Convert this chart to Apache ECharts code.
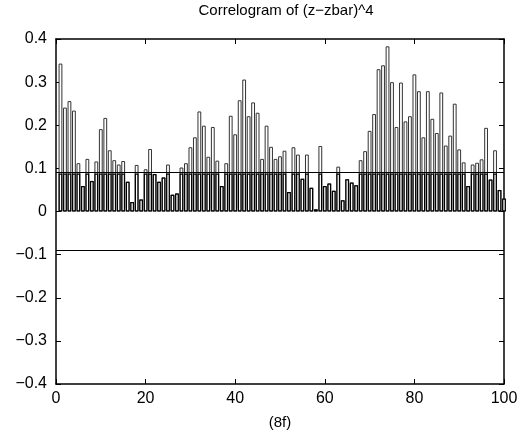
<!DOCTYPE html>
<html>
<head>
<meta charset="utf-8">
<script src="https://cdn.jsdelivr.net/npm/echarts@6/dist/echarts.min.js"></script>
<style>
html,body{margin:0;padding:0;background:#fff;}
#chart{width:528px;height:440px;}
</style>
</head>
<body>
<div id="chart"></div>
<script>
// Lags (x) and autocorrelation values (y)
const lags = [];
for (let k = 1; k <= 100; k++) lags.push(k);
const acf = [
  0.343,0.241,0.256,0.234,0.112,0.059,0.122,0.071,0.116,0.191,
  0.217,0.142,0.119,0.109,0.117,0.069,0.022,0.108,0.028,0.098,
  0.145,0.087,0.069,0.079,0.109,0.039,0.042,0.102,0.112,0.149,
  0.172,0.232,0.199,0.127,0.196,0.118,0.059,0.112,0.222,0.179,
  0.258,0.306,0.221,0.253,0.229,0.122,0.199,0.150,0.122,0.128,
  0.141,0.045,0.149,0.132,0.076,0.132,0.055,0.005,0.152,0.059,
  0.065,0.048,0.104,0.026,0.075,0.067,0.061,0.119,0.140,0.187,
  0.226,0.330,0.339,0.383,0.300,0.196,0.299,0.209,0.221,0.318,
  0.279,0.172,0.279,0.215,0.182,0.276,0.153,0.176,0.250,0.144,
  0.114,0.059,0.109,0.113,0.121,0.194,0.074,0.142,0.050,0.030
];
const confBounds = [0.088, -0.088];
const titleText = 'Correlogram of (z\u2212zbar)^4';
const xLabel = '(8f)';

const fmtY = v => {
  const r = Math.round(v * 10) / 10;
  if (r === 0) return '0';
  return (r < 0 ? '\u2212' : '') + Math.abs(r).toString();
};

const font = 'Liberation Sans';
const axisLine = {show: true, onZero: false, lineStyle: {color: '#000', width: 1.5}};
const tick = {show: true, inside: true, length: 5, lineStyle: {color: '#000', width: 1}};

// portion of each bar that lies below the upper confidence bound (drawn darker, as in the original)
const lowerPart = lags.map((k, i) => [k, Math.min(acf[i], confBounds[0])]);

const chart = echarts.init(document.getElementById('chart'), null, {renderer: 'canvas'});
chart.setOption({
  animation: false,
  backgroundColor: '#fff',
  title: {
    text: titleText, left: 281, top: -2, textAlign: 'center',
    textStyle: {fontFamily: font, fontSize: 15, fontWeight: 'normal', color: '#000'}
  },
  grid: {left: 56, right: 24, top: 39, bottom: 56, containLabel: false},
  xAxis: [{
    type: 'value', min: 0, max: 100, interval: 20, position: 'bottom',
    axisLine: axisLine, axisTick: tick, splitLine: {show: false},
    axisLabel: {fontFamily: font, fontSize: 16, color: '#000', margin: 7},
    name: xLabel, nameLocation: 'middle', nameGap: 31,
    nameTextStyle: {fontFamily: font, fontSize: 15, color: '#000'}
  }, {
    type: 'value', min: 0, max: 100, interval: 20, position: 'top',
    axisLine: axisLine, axisTick: tick, splitLine: {show: false},
    axisLabel: {show: false}
  }],
  yAxis: [{
    type: 'value', min: -0.4, max: 0.4, interval: 0.1, position: 'left',
    axisLine: axisLine, axisTick: tick, splitLine: {show: false},
    axisLabel: {fontFamily: font, fontSize: 16, color: '#000', margin: 9, formatter: fmtY}
  }, {
    type: 'value', min: -0.4, max: 0.4, interval: 0.1, position: 'right',
    axisLine: axisLine, axisTick: tick, splitLine: {show: false},
    axisLabel: {show: false}
  }],
  series: [{
    type: 'bar',
    data: lags.map((k, i) => [k, acf[i]]),
    barWidth: '85%',
    barGap: '-100%',
    itemStyle: {color: '#fff', borderColor: '#333', borderWidth: 1},
    silent: true,
    markLine: {
      silent: true, symbol: 'none', label: {show: false},
      lineStyle: {color: '#000', width: 1, type: 'solid'},
      data: confBounds.map(b => ({yAxis: b}))
    }
  }, {
    type: 'bar',
    data: lowerPart,
    barWidth: '85%',
    barGap: '-100%',
    itemStyle: {color: '#fff', borderColor: '#000', borderWidth: 1.25},
    silent: true
  }]
});
</script>
</body>
</html>
